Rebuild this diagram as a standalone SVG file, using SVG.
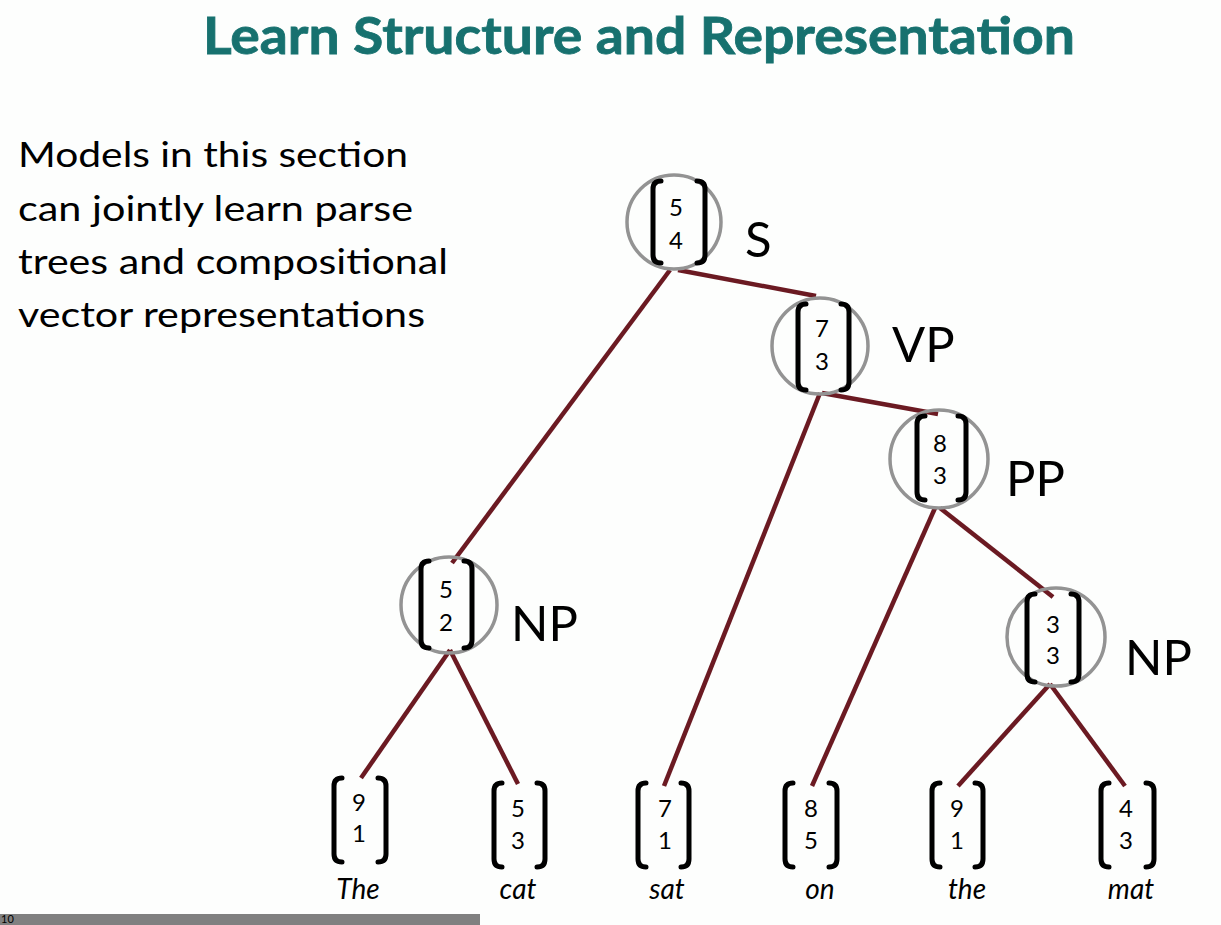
<svg xmlns="http://www.w3.org/2000/svg" width="1221" height="925" viewBox="0 0 1221 925">
<style>
.title{font-family:Lato,"Open Sans",sans-serif;font-weight:bold;font-size:51px;fill:#17716f;stroke:#17716f;stroke-width:0.8}
.body{font-family:Lato,"Open Sans",sans-serif;font-size:34px;fill:#000}
.lab{font-family:Lato,"Open Sans",sans-serif;font-size:49px;fill:#000}
.num{font-family:Lato,"Open Sans",sans-serif;font-size:24px;fill:#000;text-anchor:middle}
.word{font-family:Lato,"Open Sans",sans-serif;font-style:italic;font-size:28px;fill:#000;text-anchor:middle}
.ring{fill:none;stroke:#939393;stroke-width:3.5}
.br{fill:none;stroke:#000;stroke-width:5;stroke-linecap:round;stroke-linejoin:round}
.edge{stroke:#6b1a22;stroke-width:4.5;stroke-linecap:butt;fill:none}
</style>
<rect x="0" y="0" width="1221" height="925" fill="#fdfefd"/>
<text class="title" x="203" y="54" textLength="872" lengthAdjust="spacingAndGlyphs">Learn Structure and Representation</text>
<g id="intro">
<text class="body" x="18" y="167" textLength="390" lengthAdjust="spacingAndGlyphs">Models in this section</text>
<text class="body" x="18" y="221" textLength="395" lengthAdjust="spacingAndGlyphs">can jointly learn parse</text>
<text class="body" x="18" y="274" textLength="430" lengthAdjust="spacingAndGlyphs">trees and compositional</text>
<text class="body" x="18" y="327" textLength="407" lengthAdjust="spacingAndGlyphs">vector representations</text>
</g>
<g id="connectors">
<line class="edge" x1="670" y1="270" x2="452" y2="563"/>
<line class="edge" x1="678" y1="270" x2="816" y2="296"/>
<line class="edge" x1="820" y1="393" x2="664" y2="786"/>
<line class="edge" x1="822" y1="393" x2="938" y2="414"/>
<line class="edge" x1="935" y1="508" x2="812" y2="786"/>
<line class="edge" x1="940" y1="508" x2="1053" y2="597"/>
<line class="edge" x1="450" y1="650" x2="361" y2="778"/>
<line class="edge" x1="450" y1="650" x2="518" y2="784"/>
<line class="edge" x1="1050" y1="684" x2="958" y2="786"/>
<line class="edge" x1="1050" y1="684" x2="1125" y2="786"/>
</g>
<g id="node-S">
<circle class="ring" cx="674" cy="222" r="47"/>
<path class="br" d="M661 181 Q653 181 653 189 L653 255 Q653 263 661 263"/>
<path class="br" d="M697 181 Q705 181 705 189 L705 255 Q705 263 697 263"/>
<text class="num" x="676" y="216">5</text>
<text class="num" x="676" y="249">4</text>
<text class="lab" x="745" y="257">S</text>
</g>
<g id="node-VP">
<circle class="ring" cx="820" cy="346" r="48"/>
<path class="br" d="M806 304 Q798 304 798 312 L798 382 Q798 390 806 390"/>
<path class="br" d="M841 304 Q849 304 849 312 L849 382 Q849 390 841 390"/>
<text class="num" x="822" y="337">7</text>
<text class="num" x="822" y="370">3</text>
<text class="lab" x="892" y="362">VP</text>
</g>
<g id="node-PP">
<circle class="ring" cx="939" cy="459" r="49"/>
<path class="br" d="M925 416 Q917 416 917 424 L917 492 Q917 500 925 500"/>
<path class="br" d="M958 416 Q966 416 966 424 L966 492 Q966 500 958 500"/>
<text class="num" x="940" y="452">8</text>
<text class="num" x="940" y="484">3</text>
<text class="lab" x="1006" y="496">PP</text>
</g>
<g id="node-NP1">
<circle class="ring" cx="449" cy="605" r="48"/>
<path class="br" d="M429 561 Q421 561 421 569 L421 640 Q421 648 429 648"/>
<path class="br" d="M464 561 Q472 561 472 569 L472 640 Q472 648 464 648"/>
<text class="num" x="446" y="598">5</text>
<text class="num" x="446" y="631">2</text>
<text class="lab" x="511" y="641">NP</text>
</g>
<g id="node-NP2">
<circle class="ring" cx="1056" cy="637" r="49"/>
<path class="br" d="M1035 594 Q1027 594 1027 602 L1027 674 Q1027 682 1035 682"/>
<path class="br" d="M1071 594 Q1079 594 1079 602 L1079 674 Q1079 682 1071 682"/>
<text class="num" x="1053" y="633">3</text>
<text class="num" x="1053" y="664">3</text>
<text class="lab" x="1125" y="675">NP</text>
</g>
<g id="leaf-The">
<path class="br" d="M342 778 Q334 778 334 786 L334 854 Q334 862 342 862"/>
<path class="br" d="M378 778 Q386 778 386 786 L386 854 Q386 862 378 862"/>
<text class="num" x="359" y="811">9</text>
<text class="num" x="359" y="842">1</text>
<text class="word" x="358" y="899">The</text>
</g>
<g id="leaf-cat">
<path class="br" d="M502 783 Q494 783 494 791 L494 859 Q494 867 502 867"/>
<path class="br" d="M537 783 Q545 783 545 791 L545 859 Q545 867 537 867"/>
<text class="num" x="518" y="817">5</text>
<text class="num" x="518" y="849">3</text>
<text class="word" x="518" y="899">cat</text>
</g>
<g id="leaf-sat">
<path class="br" d="M646 783 Q638 783 638 791 L638 859 Q638 867 646 867"/>
<path class="br" d="M681 783 Q689 783 689 791 L689 859 Q689 867 681 867"/>
<text class="num" x="665" y="817">7</text>
<text class="num" x="665" y="849">1</text>
<text class="word" x="667" y="899">sat</text>
</g>
<g id="leaf-on">
<path class="br" d="M793 783 Q785 783 785 791 L785 859 Q785 867 793 867"/>
<path class="br" d="M829 783 Q837 783 837 791 L837 859 Q837 867 829 867"/>
<text class="num" x="811" y="817">8</text>
<text class="num" x="811" y="849">5</text>
<text class="word" x="820" y="899">on</text>
</g>
<g id="leaf-the">
<path class="br" d="M940 783 Q932 783 932 791 L932 859 Q932 867 940 867"/>
<path class="br" d="M975 783 Q983 783 983 791 L983 859 Q983 867 975 867"/>
<text class="num" x="957" y="817">9</text>
<text class="num" x="957" y="849">1</text>
<text class="word" x="967" y="899">the</text>
</g>
<g id="leaf-mat">
<path class="br" d="M1109 783 Q1101 783 1101 791 L1101 859 Q1101 867 1109 867"/>
<path class="br" d="M1146 783 Q1154 783 1154 791 L1154 859 Q1154 867 1146 867"/>
<text class="num" x="1126" y="817">4</text>
<text class="num" x="1126" y="849">3</text>
<text class="word" x="1131" y="899">mat</text>
</g>
<g id="footer">
<rect x="0" y="914" width="480" height="11" fill="#808080"/>
<text x="1" y="923" style="font-family:Lato,sans-serif;font-size:11px;fill:#000">10</text>
</g>
</svg>
